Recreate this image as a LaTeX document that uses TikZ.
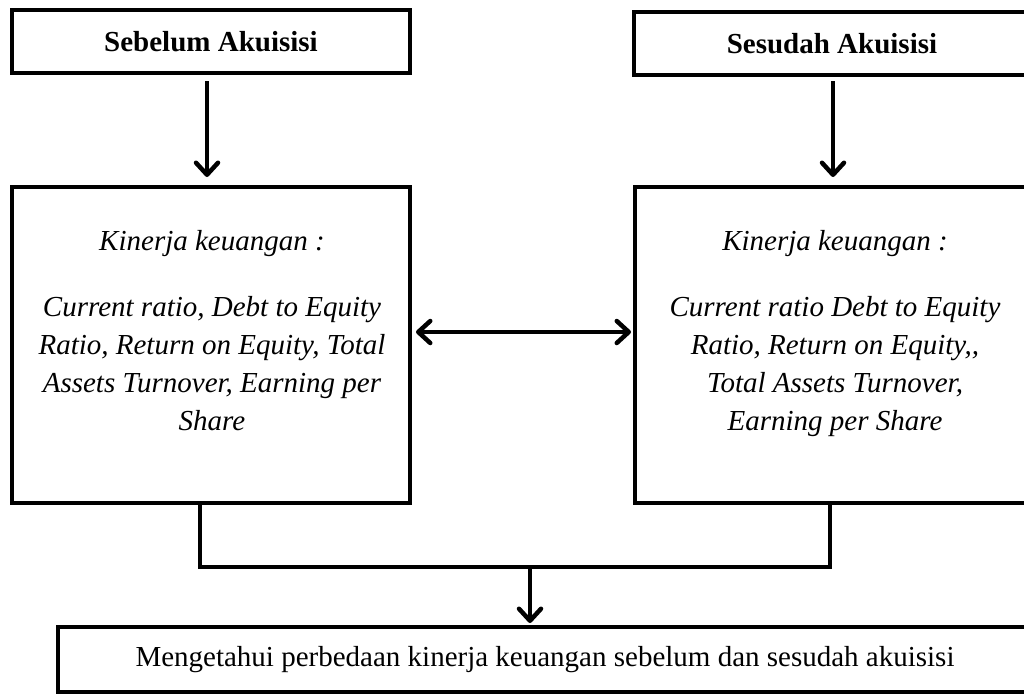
\documentclass[tikz,border=0pt]{standalone}
\usepackage{fontspec}
\setmainfont{Liberation Serif}
\usetikzlibrary{arrows.meta}
\tikzset{
  boxx/.style={draw=black, line width=4pt, rectangle, inner sep=0pt, fill=white},
  headtxt/.style={font=\fontsize{29pt}{35pt}\selectfont\bfseries},
  bodytxt/.style={font=\fontsize{29pt}{38pt}\selectfont\itshape, align=center, inner sep=0pt},
  plaintxt/.style={font=\fontsize{29pt}{35pt}\selectfont},
  arr/.style={line width=4.5pt, -{Straight Barb[length=12pt,width=22pt,round]}},
  darr/.style={line width=4.5pt, {Straight Barb[length=12pt,width=22pt,round]}-{Straight Barb[length=12pt,width=22pt,round]}},
  conn/.style={line width=4.5pt, line join=miter}
}
\begin{document}
\begin{tikzpicture}[x=1pt,y=-1pt]
\useasboundingbox[fill=white] (0,0) rectangle (1024,694);
% boxes
\node[boxx, headtxt, minimum width=398pt, minimum height=63pt] (tl) at (211,41.5) {Sebelum Akuisisi};
\node[boxx, headtxt, minimum width=396pt, minimum height=63pt] (tr) at (832,43.5) {Sesudah Akuisisi};
\node[boxx, minimum width=398pt, minimum height=316pt] (lb) at (211,345) {};
\node[boxx, minimum width=402pt, minimum height=316pt] (rb) at (836,345) {};
\node[boxx, plaintxt, minimum width=974pt, minimum height=65pt] (bt) at (545,659.5) {Mengetahui perbedaan kinerja keuangan sebelum dan sesudah akuisisi};
% texts in big boxes
\node[bodytxt, anchor=north] (lt) at (212,230) {Kinerja keuangan :\\[28pt]Current ratio, Debt to Equity\\Ratio, Return on Equity, Total\\Assets Turnover, Earning per\\Share};
\node[bodytxt, anchor=north] (rt) at (835,230) {Kinerja keuangan :\\[28pt]Current ratio Debt to Equity\\Ratio, Return on Equity,{},\\Total Assets Turnover,\\Earning per Share};
% arrows
\draw[arr, shorten <=6pt, shorten >=8pt] ([xshift=-4pt]tl.south) -- ([xshift=-4pt]tl.south |- lb.north);
\draw[arr, shorten <=4pt, shorten >=8pt] ([xshift=1pt]tr.south) -- ([xshift=1pt]tr.south |- rb.north);
\draw[darr, shorten <=4pt, shorten >=2pt] ([yshift=13pt]lb.east) -- ([yshift=13pt]lb.east -| rb.west);
% connectors
\coordinate (j) at (530,567);
\draw[conn] ([xshift=-11pt]lb.south) -- ([xshift=-11pt]lb.south |- j) -- ([xshift=-6pt]rb.south |- j) -- ([xshift=-6pt]rb.south);
\draw[arr, shorten >=2pt] (j) -- (j |- bt.north);
\end{tikzpicture}
\end{document}
